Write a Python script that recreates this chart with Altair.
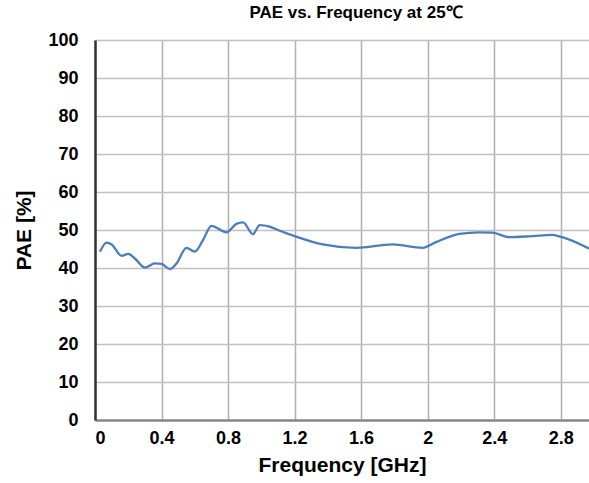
import altair as alt
import pandas as pd

freq = [0.03, 0.07, 0.10, 0.16, 0.20, 0.24, 0.30, 0.36, 0.40, 0.45, 0.49, 0.55, 0.60, 0.65,
        0.70, 0.79, 0.85, 0.89, 0.95, 0.99, 1.05, 1.11, 1.20, 1.37, 1.57, 1.79, 1.97, 2.05,
        2.19, 2.31, 2.39, 2.49, 2.63, 2.75, 2.81, 2.97]
pae = [44.3, 46.7, 46.2, 43.2, 43.7, 42.5, 40.1, 41.2, 41.1, 39.7, 41.2, 45.3, 44.3, 47.4,
       51.1, 49.4, 51.6, 52.0, 48.9, 51.3, 50.9, 49.8, 48.4, 46.2, 45.3, 46.2, 45.3, 46.8,
       49.0, 49.4, 49.3, 48.1, 48.4, 48.7, 48.1, 45.1]
x_ticks = [0, 0.4, 0.8, 1.2, 1.6, 2.0, 2.4, 2.8]
y_ticks = [0, 10, 20, 30, 40, 50, 60, 70, 80, 90, 100]

df = pd.DataFrame({"freq": freq, "pae": pae})

font = "Liberation Sans"

chart = alt.Chart(df).mark_line(
    color="#4a7ebb", strokeWidth=2.3, interpolate="monotone", clip=True
).encode(
    x=alt.X("freq:Q", scale=alt.Scale(domain=[0, 2.97], nice=False, zero=False),
            axis=alt.Axis(values=x_ticks, format=".1~f", title="Frequency [GHz]",
                          grid=True, gridColor="#b0b0b0", gridWidth=1.5,
                          ticks=False, domainColor="#888888", domainWidth=2.5,
                          labelFont=font, labelFontSize=18, labelFontWeight="bold",
                          labelColor="#000000", labelPadding=9,
                          titleFont=font, titleFontSize=21, titleFontWeight="bold",
                          titleColor="#000000", titlePadding=7)),
    y=alt.Y("pae:Q", scale=alt.Scale(domain=[0, 100], nice=False),
            axis=alt.Axis(values=y_ticks, title="PAE [%]",
                          grid=True, gridColor="#c0c0c0", gridWidth=1.5,
                          ticks=False, domainColor="#333333", domainWidth=2.5,
                          labelFont=font, labelFontSize=18, labelFontWeight="bold",
                          labelColor="#000000", labelPadding=17,
                          titleFont=font, titleFontSize=21, titleFontWeight="bold",
                          titleColor="#000000", titlePadding=13)),
).properties(
    width=494, height=380,
    title=alt.TitleParams("PAE vs. Frequency at 25℃", font=font, fontSize=17,
                          fontWeight="bold", color="#000000", anchor="middle",
                          dx=14, offset=9),
    autosize=alt.AutoSizeParams(type="none"),
    padding={"left": 95, "top": 40, "right": 0, "bottom": 63},
).configure_view(stroke=None)

chart.save("out.html", embed_options={"renderer": "svg", "actions": False})
